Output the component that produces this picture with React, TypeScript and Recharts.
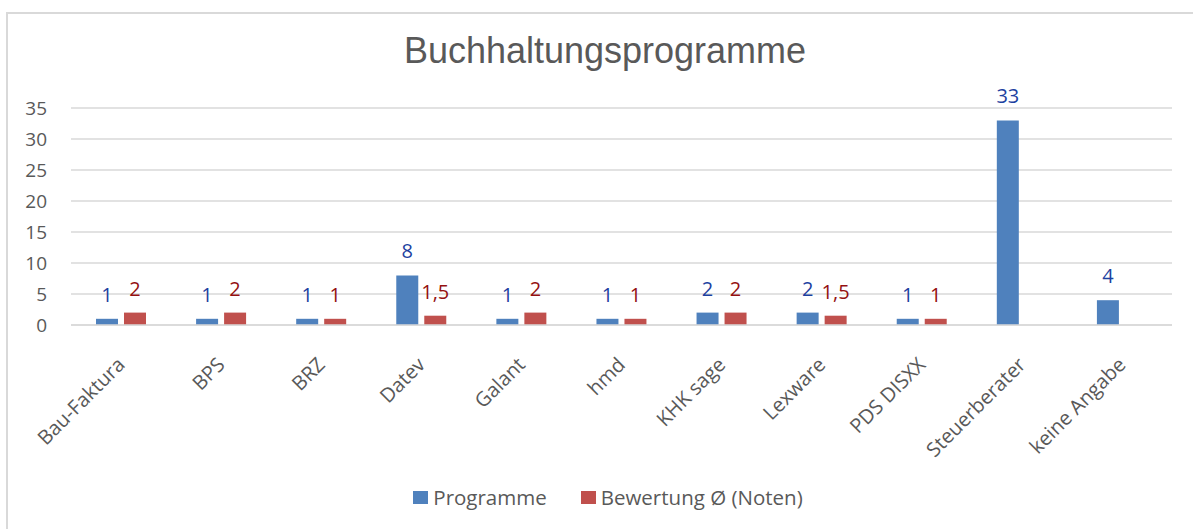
import { BarChart, Bar, XAxis, YAxis, CartesianGrid, Legend, LabelList } from 'recharts'

const categories = ['Bau-Faktura', 'BPS', 'BRZ', 'Datev', 'Galant', 'hmd', 'KHK sage', 'Lexware', 'PDS DISXX', 'Steuerberater', 'keine Angabe']
const programme = [1, 1, 1, 8, 1, 1, 2, 2, 1, 33, 4]
const bewertung: (number | null)[] = [2, 2, 1, 1.5, 2, 1, 2, 1.5, 1, null, null]
const yTicks = [0, 5, 10, 15, 20, 25, 30, 35]

const seriesNames = ['Programme', 'Bewertung Ø (Noten)']
const BLUE = '#4f81bd'
const RED = '#c0504d'
const FONT = '"Open Sans", sans-serif'

const data = categories.map((name, i) => ({
  name,
  programme: programme[i],
  bewertung: bewertung[i],
}))

// rotated category labels, right end sits just under the bar group
function CategoryTick({ x, y, payload }: any) {
  const tx = x + 5
  const ty = y + 33
  return (
    <text
      x={tx}
      y={ty}
      transform={`rotate(-45, ${tx}, ${ty})`}
      textAnchor="end"
      fill="#595959"
      fontSize={20}
      fontFamily={FONT}
    >
      {payload.value}
    </text>
  )
}

function LegendContent() {
  const colors = [BLUE, RED]
  return (
    <div style={{ display: 'flex', justifyContent: 'center', gap: 34, fontFamily: FONT, fontSize: 20.5, color: '#595959', lineHeight: '26px' }}>
      {seriesNames.map((n, i) => (
        <div key={n} style={{ display: 'flex', alignItems: 'center' }}>
          <span style={{ width: 15, height: 13, background: colors[i], marginRight: 5, display: 'inline-block' }} />
          {n}
        </div>
      ))}
    </div>
  )
}

export default function App() {
  return (
    <div style={{ position: 'absolute', left: 0, top: 0, width: 1193, height: 529, background: '#fff', overflow: 'hidden' }}>
      <div style={{ position: 'absolute', left: 6, top: 12, width: 1300, height: 600, borderTop: '2px solid #d9d9d9', borderLeft: '2px solid #d9d9d9' }} />
      <div style={{ position: 'absolute', left: 0, top: 30, width: 1210, textAlign: 'center', fontFamily: '"Liberation Sans", Arial, sans-serif', fontSize: 36, color: '#595959' }}>
        Buchhaltungsprogramme
      </div>
      <div style={{ position: 'absolute', left: 0, top: 0 }}>
        <BarChart width={1193} height={529} data={data} margin={{ top: 108, right: 21, bottom: 0, left: 0 }} barGap={6} barSize={22}>
          <CartesianGrid vertical={false} stroke="#d9d9d9" strokeWidth={1.5} />
          <XAxis
            dataKey="name"
            height={204}
            interval={0}
            tick={<CategoryTick />}
            tickLine={false}
            axisLine={{ stroke: '#d9d9d9', strokeWidth: 1.5 }}
          />
          <YAxis
            width={71}
            domain={[0, 35]}
            ticks={yTicks}
            axisLine={false}
            tickLine={false}
            tickSize={0}
            tickMargin={24}
            tick={{ fill: '#595959', fontSize: 19, fontFamily: FONT }}
          />
          <Legend
            layout="horizontal"
            verticalAlign="middle"
            align="center"
            wrapperStyle={{ top: 484, left: 0, width: 1216 }}
            content={<LegendContent />}
          />
          <Bar dataKey="programme" name={seriesNames[0]} fill={BLUE} isAnimationActive={false}>
            <LabelList dataKey="programme" position="top" offset={17} fill="#1d41a0" fontSize={20} fontFamily={FONT} />
          </Bar>
          <Bar dataKey="bewertung" name={seriesNames[1]} fill={RED} isAnimationActive={false}>
            <LabelList
              dataKey="bewertung"
              position="top"
              offset={17}
              fill="#941111"
              fontSize={20}
              fontFamily={FONT}
              formatter={(v: any) => (v == null ? '' : String(v).replace('.', ','))}
            />
          </Bar>
        </BarChart>
      </div>
    </div>
  )
}
